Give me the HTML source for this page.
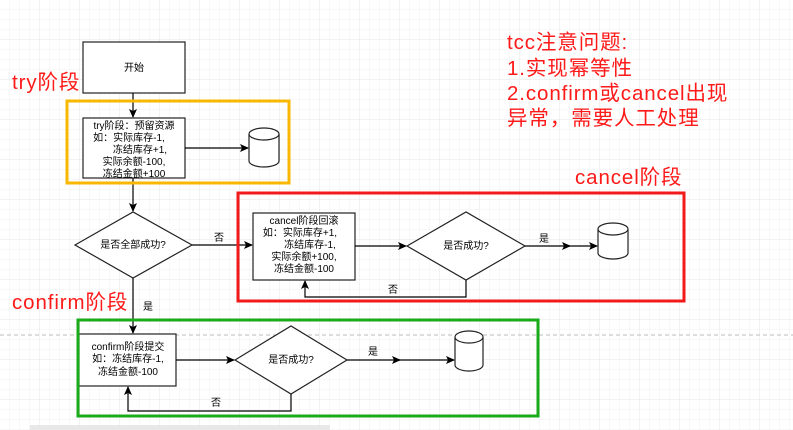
<!DOCTYPE html>
<html><head><meta charset="utf-8"><style>
html,body{margin:0;padding:0;background:#fff;}
svg{display:block;font-family:"Liberation Sans","Noto Sans CJK SC",sans-serif;}
</style></head><body>
<svg width="793" height="430" viewBox="0 0 793 430" xmlns="http://www.w3.org/2000/svg">
<defs>
<pattern id="g" width="10" height="10" patternUnits="userSpaceOnUse"><path d="M10 0V10H0" fill="none" stroke="#f1f1f1" stroke-width="1"/></pattern>
<pattern id="G" width="40" height="40" patternUnits="userSpaceOnUse"><path d="M40 0V40H0" fill="none" stroke="#e6e6e6" stroke-width="1"/></pattern>
<marker id="a" markerWidth="10" markerHeight="10" refX="8" refY="4" orient="auto" markerUnits="userSpaceOnUse"><path d="M0 0L9 4L0 8L2 4Z" fill="#000"/></marker>
</defs>
<rect width="793" height="430" fill="url(#g)"/>
<rect width="793" height="430" fill="url(#G)"/>
<line x1="0" y1="335" x2="793" y2="335" stroke="#bbb" stroke-dasharray="4,3"/>
<rect x="30" y="425" width="300" height="5" fill="#e8e8e8"/>
<g fill="#fff" stroke="#222" stroke-width="1.2">
<rect x="83" y="42" width="102" height="51"/>
<rect x="83" y="118" width="102" height="60"/>
<rect x="253" y="213" width="102" height="67"/>
<rect x="79" y="334" width="97" height="52"/>
<path d="M75 245L133 212L192 245L133 278Z"/>
<path d="M407 246L466 212L525 246L466 280Z"/>
<path d="M235 360L291 326L347 360L291 394Z"/>
</g>
<g fill="#fff" stroke="#222" stroke-width="1.2">
<path d="M249 134v27a15 6 0 0 0 30 0v-27"/><ellipse cx="264" cy="134" rx="15" ry="6"/>
<path d="M598 229v24a15 6 0 0 0 30 0v-24"/><ellipse cx="613" cy="229" rx="15" ry="6"/>
<path d="M455 337v28a14 6 0 0 0 28 0v-28"/><ellipse cx="469" cy="337" rx="14" ry="6"/>
</g>
<g stroke="#000" stroke-width="1.2" fill="none">
<line x1="133" y1="93" x2="133" y2="117" marker-end="url(#a)"/>
<line x1="185" y1="148" x2="248" y2="148" marker-end="url(#a)"/>
<line x1="133" y1="178" x2="133" y2="211" marker-end="url(#a)"/>
<line x1="192" y1="245" x2="252" y2="245" marker-end="url(#a)"/>
<line x1="355" y1="246" x2="406" y2="246" marker-end="url(#a)"/>
<line x1="525" y1="246" x2="570" y2="246" marker-end="url(#a)"/>
<line x1="565" y1="246" x2="597" y2="246" marker-end="url(#a)"/>
<path d="M466 280V297H305V281" marker-end="url(#a)"/>
<line x1="133" y1="278" x2="133" y2="333" marker-end="url(#a)"/>
<line x1="176" y1="360" x2="234" y2="360" marker-end="url(#a)"/>
<line x1="347" y1="360" x2="400" y2="360" marker-end="url(#a)"/>
<line x1="395" y1="360" x2="454" y2="360" marker-end="url(#a)"/>
<path d="M291 394V411H128V387" marker-end="url(#a)"/>
</g>
<rect x="67" y="101" width="222" height="82" fill="none" stroke="#f8b800" stroke-width="3"/>
<rect x="238" y="193" width="446" height="108" fill="none" stroke="#f21a1a" stroke-width="3"/>
<rect x="78" y="320" width="460" height="96" fill="none" stroke="#1aab1a" stroke-width="3"/>
<g font-size="10" fill="#000" text-anchor="middle">
<text x="134" y="71">开始</text>
<text x="134" y="129">try阶段：预留资源</text>
<text x="129" y="141">如：实际库存-1,</text>
<text x="140" y="153">冻结库存+1,</text>
<text x="134" y="165">实际余额-100,</text>
<text x="134" y="177">冻结金额+100</text>
<text x="133" y="248">是否全部成功?</text>
<text x="304" y="224">cancel阶段回滚</text>
<text x="300" y="236">如：实际库存+1,</text>
<text x="310" y="248">冻结库存-1,</text>
<text x="304" y="260">实际余额+100,</text>
<text x="304" y="272">冻结金额-100</text>
<text x="466" y="249">是否成功?</text>
<text x="128" y="350">confirm阶段提交</text>
<text x="128" y="362">如：冻结库存-1,</text>
<text x="128" y="375">冻结金额-100</text>
<text x="291" y="363">是否成功?</text>
<text x="219" y="241">否</text>
<text x="544" y="242">是</text>
<text x="393" y="293">否</text>
<text x="148" y="310">是</text>
<text x="373" y="355">是</text>
<text x="216" y="406">否</text>
</g>
<g font-size="20.5" fill="#ff1a1a" letter-spacing="0.9">
<text x="12" y="89">try阶段</text>
<text x="575" y="184">cancel阶段</text>
<text x="12" y="309">confirm阶段</text>
<text x="507" y="49">tcc注意问题:</text>
<text x="507" y="75">1.实现幂等性</text>
<text x="507" y="100">2.confirm或cancel出现</text>
<text x="507" y="125">异常，需要人工处理</text>
</g>
</svg>
</body></html>
